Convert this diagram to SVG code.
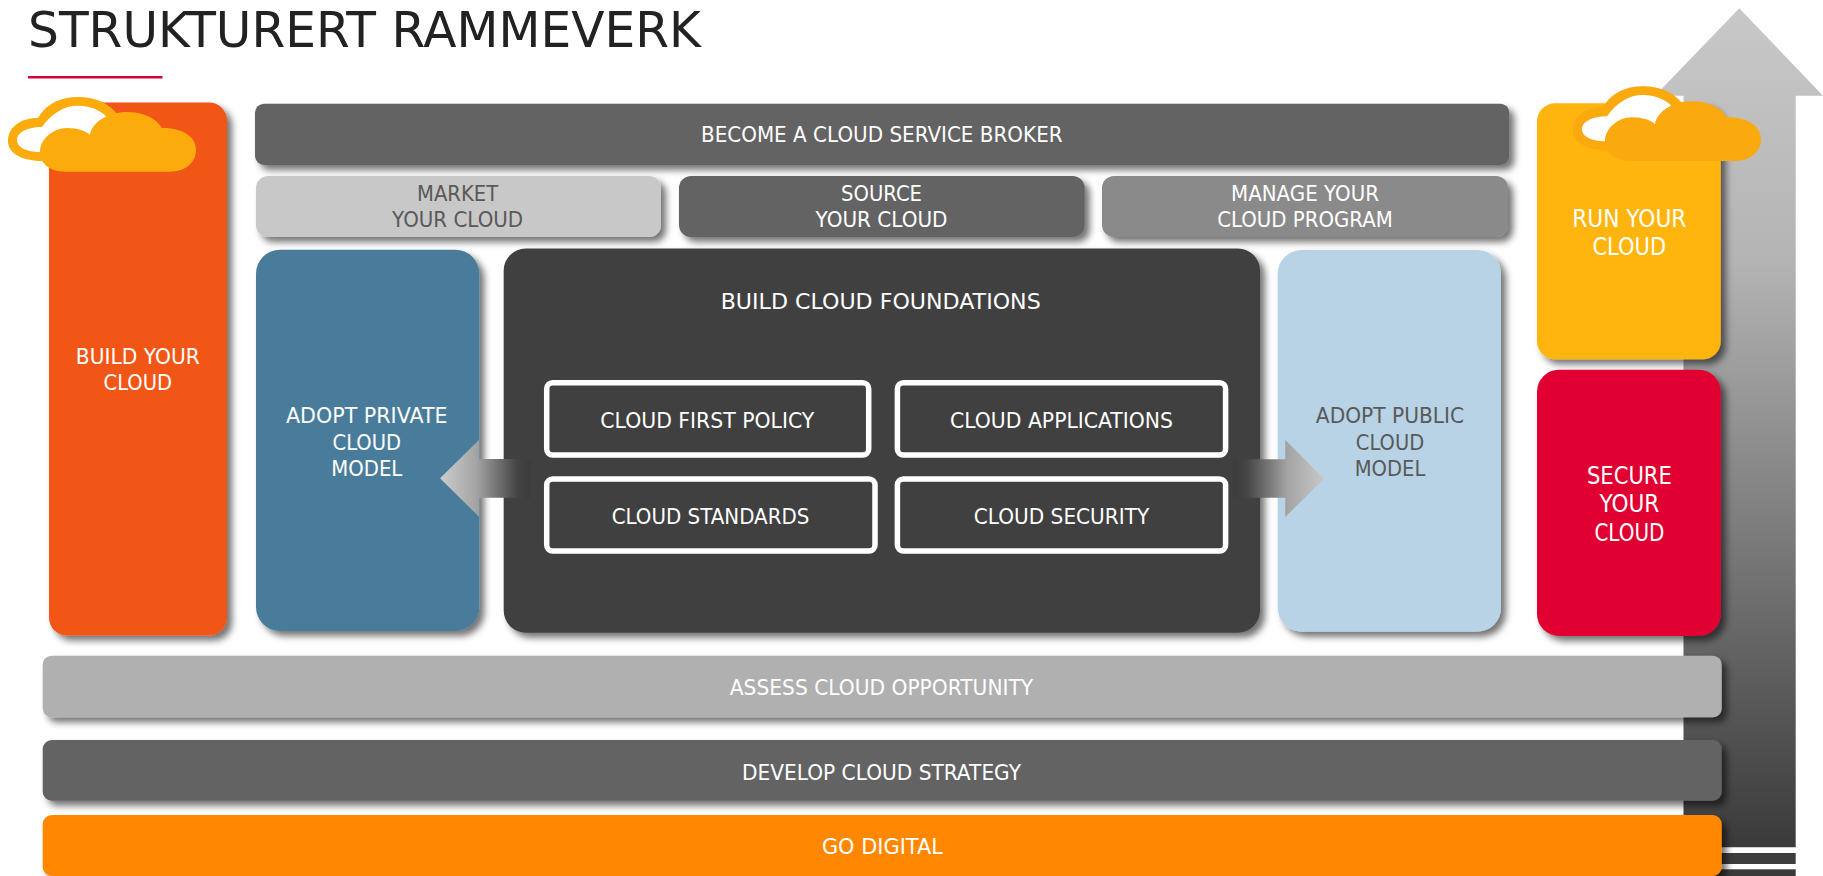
<svg xmlns="http://www.w3.org/2000/svg" width="1823" height="876" viewBox="0 0 1823 876">
<style>
text{font-family:"DejaVu Sans","Noto Sans",sans-serif;font-size:21px;fill:#fff;text-anchor:middle}
.dk{fill:#595959}
.lg{font-size:24px}
.box{fill:#404040;stroke:#fff;stroke-width:5.5}
.sh{filter:url(#shadow)}
</style>
<defs>
<filter id="shadow" x="-10%" y="-20%" width="120%" height="145%"><feDropShadow dx="5" dy="5" stdDeviation="3.5" flood-color="#000" flood-opacity=".55"/></filter>
<linearGradient id="up" x1="0" y1="0" x2="0" y2="1"><stop offset="0" stop-color="#c8c8c8"/><stop offset=".3" stop-color="#b4b4b4"/><stop offset="1" stop-color="#3a3a3a"/></linearGradient>
<linearGradient id="la" x1="0" y1="0" x2="1" y2="0"><stop offset="0" stop-color="#cdcdcd"/><stop offset=".4" stop-color="#a4a4a4"/><stop offset=".85" stop-color="#444"/><stop offset="1" stop-color="#3c3c3c"/></linearGradient>
<linearGradient id="ra" x1="1" y1="0" x2="0" y2="0"><stop offset="0" stop-color="#c8c8c8"/><stop offset=".4" stop-color="#a4a4a4"/><stop offset=".85" stop-color="#444"/><stop offset="1" stop-color="#3c3c3c"/></linearGradient>
<g id="cloud">
<path d="M42.4,161C25,161 8,155 8,141C8,126 22,118 38,118C46,104 60,97 78,97C96,97 110,104 117,114L120,150Z"/>
<path fill="#fff" d="M40,152C28,152 17,148 17,140C17,132 28,127 42,127C52,113 64,105.7 78,105.7C90,105.7 100,110 107,117C97,121 92,128 91.5,135L60,150Z"/>
<path d="M65,171.7C49,171.7 40,163 40,152C40,140 52,128 67,128C78,128 86,131 90,135C92,122 108,112 127,112C143,112 156,118 162,128C182,128 196,136 196,150C196,162 186,171.7 170,171.7Z"/>
</g>
</defs>
<rect width="1823" height="876" fill="#fff"/>
<g id="title">
<text x="28" y="46.500" textLength="673" lengthAdjust="spacingAndGlyphs" style="font-size:50px;fill:#222;text-anchor:start">STRUKTURERT RAMMEVERK</text>
<rect x="28" y="76" width="134.500" height="2.500" fill="#d9003a"/>
</g>
<g id="maturity-arrow">
<path fill="url(#up)" d="M1739.300,8.300L1823,95.700H1795.700V847.300H1683.500V95.700H1655Z"/>
<rect x="1683.500" y="853" width="112.200" height="11" fill="#3d3d3d"/>
<rect x="1683.500" y="869.300" width="112.200" height="6.700" fill="#3a3a3a"/>
</g>
<g id="build-your-cloud"><rect class="sh" x="49" y="102.500" width="178" height="533" rx="18" fill="#f15616"/>
<text x="137.800" y="363.500" textLength="124" lengthAdjust="spacingAndGlyphs">BUILD YOUR</text><text x="137.800" y="390" textLength="68.600" lengthAdjust="spacingAndGlyphs">CLOUD</text></g>
<g id="broker"><rect class="sh" x="255" y="103.700" width="1254.300" height="61.300" rx="9" fill="#636363"/>
<text x="881.800" y="142" textLength="361.600" lengthAdjust="spacingAndGlyphs">BECOME A CLOUD SERVICE BROKER</text></g>
<g id="market"><rect class="sh" x="256" y="176" width="405" height="61" rx="12" fill="#c8c8c8"/>
<text class="dk" x="457.600" y="201.200" textLength="81" lengthAdjust="spacingAndGlyphs">MARKET</text><text class="dk" x="457.600" y="227.200" textLength="131" lengthAdjust="spacingAndGlyphs">YOUR CLOUD</text></g>
<g id="source"><rect class="sh" x="679" y="176" width="405.700" height="61" rx="12" fill="#636363"/>
<text x="881.500" y="201.200" textLength="81" lengthAdjust="spacingAndGlyphs">SOURCE</text><text x="881.500" y="227.200" textLength="132" lengthAdjust="spacingAndGlyphs">YOUR CLOUD</text></g>
<g id="manage"><rect class="sh" x="1102" y="176" width="406" height="61" rx="12" fill="#8a8a8a"/>
<text x="1305" y="201.200" textLength="148" lengthAdjust="spacingAndGlyphs">MANAGE YOUR</text><text x="1305" y="227.200" textLength="175.500" lengthAdjust="spacingAndGlyphs">CLOUD PROGRAM</text></g>
<g id="private"><rect class="sh" x="256" y="249.700" width="223.300" height="381.300" rx="24" fill="#4a7c9b"/>
<text x="366.800" y="423" textLength="161.600" lengthAdjust="spacingAndGlyphs">ADOPT PRIVATE</text><text x="366.800" y="449.700" textLength="68.600" lengthAdjust="spacingAndGlyphs">CLOUD</text><text x="366.800" y="475.700" textLength="71" lengthAdjust="spacingAndGlyphs">MODEL</text></g>
<g id="foundations"><rect class="sh" x="503.700" y="248.500" width="756.300" height="384.200" rx="22" fill="#404040"/>
<text x="880.700" y="309" textLength="320" lengthAdjust="spacingAndGlyphs">BUILD CLOUD FOUNDATIONS</text></g>
<g id="first-policy"><rect class="box" x="546.700" y="382.700" width="322" height="72.300" rx="6"/><text x="707.300" y="428.300" textLength="214" lengthAdjust="spacingAndGlyphs">CLOUD FIRST POLICY</text></g>
<g id="applications"><rect class="box" x="897.400" y="382.700" width="328.200" height="72.300" rx="6"/><text x="1061.500" y="428.300" textLength="223" lengthAdjust="spacingAndGlyphs">CLOUD APPLICATIONS</text></g>
<g id="standards"><rect class="box" x="546.700" y="479" width="328.300" height="72" rx="6"/><text x="710.500" y="523.700" textLength="197.700" lengthAdjust="spacingAndGlyphs">CLOUD STANDARDS</text></g>
<g id="security"><rect class="box" x="897.400" y="479" width="328.200" height="72" rx="6"/><text x="1061.500" y="523.700" textLength="175.600" lengthAdjust="spacingAndGlyphs">CLOUD SECURITY</text></g>
<g id="public"><rect class="sh" x="1277.700" y="250" width="223.300" height="381.700" rx="24" fill="#b7d3e5"/>
<text class="dk" x="1390" y="422.700" textLength="148.300" lengthAdjust="spacingAndGlyphs">ADOPT PUBLIC</text><text class="dk" x="1390" y="449.700" textLength="68.300" lengthAdjust="spacingAndGlyphs">CLOUD</text><text class="dk" x="1390" y="475.700" textLength="70.700" lengthAdjust="spacingAndGlyphs">MODEL</text></g>
<g id="run"><rect class="sh" x="1537" y="103.300" width="183.700" height="256" rx="18" fill="#ffb510"/>
<text class="lg" x="1629.300" y="226.700" textLength="114.300" lengthAdjust="spacingAndGlyphs">RUN YOUR</text><text class="lg" x="1629.300" y="255" textLength="73.700" lengthAdjust="spacingAndGlyphs">CLOUD</text></g>
<g id="secure"><rect class="sh" x="1537" y="369.700" width="183.700" height="266.300" rx="22" fill="#e00633"/>
<text class="lg" x="1629.400" y="483.600" textLength="85" lengthAdjust="spacingAndGlyphs">SECURE</text><text class="lg" x="1629.400" y="512.400" textLength="60" lengthAdjust="spacingAndGlyphs">YOUR</text><text class="lg" x="1629.400" y="540.600" textLength="70" lengthAdjust="spacingAndGlyphs">CLOUD</text></g>
<g id="assess"><rect class="sh" x="42.700" y="655.700" width="1679" height="61.600" rx="9" fill="#b0b0b0"/>
<text x="881.500" y="695" textLength="303.400" lengthAdjust="spacingAndGlyphs">ASSESS CLOUD OPPORTUNITY</text></g>
<g id="strategy"><rect class="sh" x="42.700" y="740" width="1679" height="60.700" rx="9" fill="#636363"/>
<text x="881.500" y="780" textLength="279" lengthAdjust="spacingAndGlyphs">DEVELOP CLOUD STRATEGY</text></g>
<g id="digital"><rect class="sh" x="42.700" y="815" width="1679" height="61" rx="9" fill="#ff8804"/>
<text x="882.400" y="853.500" textLength="121" lengthAdjust="spacingAndGlyphs">GO DIGITAL</text></g>
<g id="connectors">
<path fill="url(#la)" d="M440,478.300L479,440V459H531V497.700H479V516.700Z"/>
<path fill="url(#ra)" d="M1324,478.700L1285.300,440V459.300H1233V497.700H1285.300V517Z"/>
</g>
<g id="cloud-left"><use href="#cloud" fill="#fcab0d"/></g>
<g id="cloud-right"><use href="#cloud" x="1565" y="-10.700" fill="#faa90e"/></g>
</svg>
